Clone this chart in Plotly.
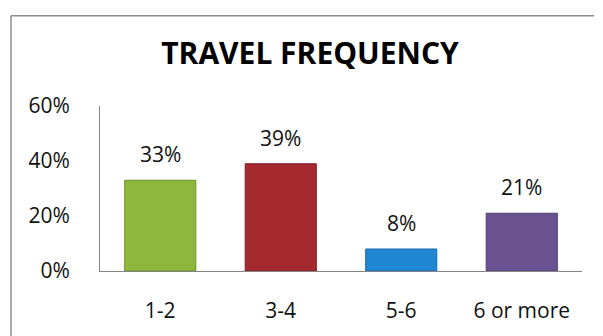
import plotly.graph_objects as go

categories = ["1-2", "3-4", "5-6", "6 or more"]
values = [33, 39, 8, 21]
labels = ["33%", "39%", "8%", "21%"]
colors = ["#8DB83C", "#A52A2F", "#1F87D4", "#6A5290"]
edge_colors = ["#6E8F2A", "#7E1E22", "#176AA8", "#513E70"]
y_ticks = [0, 20, 40, 60]
y_tick_text = ["0%", "20%", "40%", "60%"]
title = "TRAVEL FREQUENCY"

FONT = "Open Sans, Lato, sans-serif"

fig = go.Figure()
fig.add_trace(go.Bar(
    x=categories, y=values,
    marker=dict(color=colors, line=dict(color=edge_colors, width=1)),
    hoverinfo="skip",
))

for c, v, t in zip(categories, values, labels):
    fig.add_annotation(x=c, y=v, text=t, showarrow=False, yshift=26,
                       yanchor="middle", font=dict(family=FONT, size=21, color="#111111"))

bx = (11 - 100) / 482
by = (278 - 12) / 172

fig.update_layout(
    width=603, height=336,
    margin=dict(l=100, r=21, t=106, b=58),
    paper_bgcolor="white", plot_bgcolor="white",
    bargap=0.41,
    showlegend=False,
    title=dict(text="<b>" + title + "</b>", x=(310 - 100) / 482, xref="paper",
               xanchor="center", y=1 - 53 / 336, yanchor="middle",
               font=dict(family=FONT, size=30, color="#000000")),
    xaxis=dict(showline=True, linecolor="#868686", linewidth=1, showgrid=False,
               ticks="", ticklabelstandoff=21,
               tickfont=dict(family=FONT, size=21, color="#111111")),
    yaxis=dict(range=[0, 60], tickvals=y_ticks, ticktext=y_tick_text,
               showline=True, linecolor="#868686", linewidth=1, showgrid=False,
               zeroline=False, ticks="", ticklabelstandoff=25,
               tickfont=dict(family=FONT, size=21, color="#111111")),
    shapes=[
        dict(type="line", xref="paper", yref="paper", x0=bx, x1=bx, y0=-0.4, y1=by,
             line=dict(color="#8C8C8C", width=1.5), layer="below"),
        dict(type="line", xref="paper", yref="paper", x0=bx, x1=(594 - 100) / 482, y0=by, y1=by,
             line=dict(color="#8C8C8C", width=1.5), layer="below"),
    ],
)

fig.write_html("out.html")
